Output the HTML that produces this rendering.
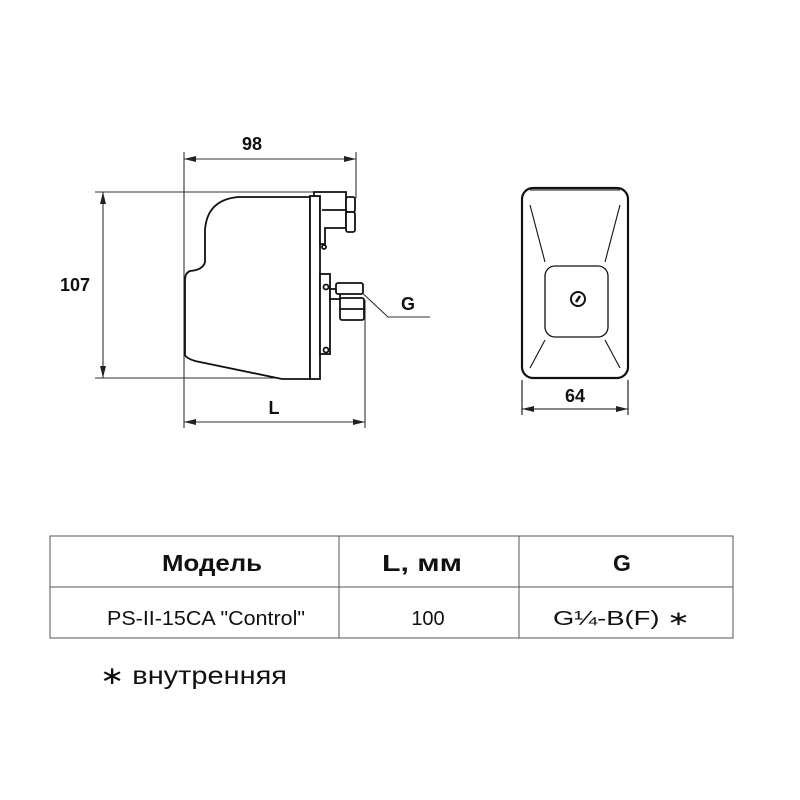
<!DOCTYPE html>
<html><head><meta charset="utf-8"><style>
body{margin:0;background:#fff;}
svg{display:block}
text{font-family:"Liberation Sans",sans-serif;fill:#111}
</style></head><body>
<svg width="800" height="800" viewBox="0 0 800 800" xmlns="http://www.w3.org/2000/svg">
<defs>
<marker id="a" markerWidth="12" markerHeight="6" refX="12" refY="3" orient="auto-start-reverse" markerUnits="userSpaceOnUse">
<path d="M0,0 L12,3 L0,6 Z" fill="#222"/></marker>
</defs>
<g stroke="#333" stroke-width="1.1" fill="none">
<line x1="184" y1="152" x2="184" y2="428"/>
<line x1="356" y1="152" x2="356" y2="198"/>
<line x1="95" y1="192" x2="320" y2="192"/>
<line x1="95" y1="378" x2="290" y2="378"/>
<line x1="365" y1="300" x2="365" y2="428"/>
<line x1="184" y1="159" x2="356" y2="159" marker-start="url(#a)" marker-end="url(#a)"/>
<line x1="103" y1="192" x2="103" y2="378" marker-start="url(#a)" marker-end="url(#a)"/>
<line x1="184" y1="422" x2="365" y2="422" marker-start="url(#a)" marker-end="url(#a)"/>
<polyline points="358,289 388,317 430,317"/>
</g>
<g stroke="#111" stroke-width="1.8" fill="#fff">
<path d="M310,197 L238,197 Q207,200 205,230 L205,262 Q203,270 190,271 Q185,273 185,280 L185,355 Q186,358 195,361 L282,379 L310,379 Z"/>
<rect x="310" y="196" width="10" height="183"/>
<path d="M314,192 L346,192 L346,228 L325,228 L325,244 L320,244 L320,196 L314,196 Z"/>
<rect x="346" y="197" width="9" height="15" rx="2"/>
<rect x="346" y="212" width="9" height="20" rx="2"/>
<line x1="322" y1="210" x2="346" y2="210"/>
<rect x="320" y="274" width="10" height="80"/>
<rect x="330" y="289" width="10" height="10"/>
<rect x="336" y="283" width="27" height="11" rx="2"/>
<rect x="340" y="298" width="24" height="22" rx="2"/>
<line x1="340" y1="309" x2="364" y2="309"/>
<circle cx="324" cy="247" r="2"/><circle cx="326" cy="287" r="2.5"/><circle cx="326" cy="350" r="2.5"/>
</g>
<text x="252" y="150" font-size="18" font-weight="bold" text-anchor="middle">98</text>
<text x="75" y="291" font-size="18" font-weight="bold" text-anchor="middle">107</text>
<text x="274" y="414" font-size="18" font-weight="bold" text-anchor="middle">L</text>
<text x="408" y="310" font-size="18" font-weight="bold" text-anchor="middle">G</text>
<g stroke="#111" fill="none">
<rect x="522" y="188" width="106" height="190" rx="11" stroke-width="2.2"/>
<line x1="530" y1="190" x2="620" y2="190" stroke-width="1"/>
<rect x="545" y="266" width="63" height="71" rx="10" stroke-width="1.3"/>
<circle cx="578" cy="299" r="7" stroke-width="2"/>
<line x1="576" y1="302" x2="580" y2="296" stroke-width="2.5"/>
<g stroke-width="1.1">
<line x1="530" y1="205" x2="545" y2="262"/><line x1="620" y1="205" x2="605" y2="262"/>
<line x1="545" y1="340" x2="530" y2="368"/><line x1="605" y1="340" x2="620" y2="368"/>
<line x1="522" y1="380" x2="522" y2="415"/><line x1="628" y1="380" x2="628" y2="415"/>
<line x1="522" y1="409" x2="628" y2="409" marker-start="url(#a)" marker-end="url(#a)"/>
</g>
</g>
<text x="575" y="402" font-size="18" font-weight="bold" text-anchor="middle">64</text>
<g stroke="#555" stroke-width="1" fill="none">
<rect x="50" y="536" width="683" height="102"/>
<line x1="50" y1="587" x2="733" y2="587"/>
<line x1="339" y1="536" x2="339" y2="638"/>
<line x1="519" y1="536" x2="519" y2="638"/>
</g>
<text x="212" y="571" font-size="23" font-weight="bold" text-anchor="middle" textLength="100" lengthAdjust="spacingAndGlyphs">Модель</text>
<text x="422" y="571" font-size="23" font-weight="bold" text-anchor="middle" textLength="80" lengthAdjust="spacingAndGlyphs">L, мм</text>
<text x="622" y="571" font-size="23" font-weight="bold" text-anchor="middle">G</text>
<text x="107" y="625" font-size="20" textLength="198" lengthAdjust="spacingAndGlyphs">PS-II-15CA "Control"</text>
<text x="428" y="625" font-size="20" text-anchor="middle">100</text>
<text x="553" y="625" font-size="20" textLength="137" lengthAdjust="spacingAndGlyphs">G¼-B(F) ∗</text>
<text x="100" y="684" font-size="25" textLength="187" lengthAdjust="spacingAndGlyphs">∗ внутренняя</text>
</svg>
</body></html>
